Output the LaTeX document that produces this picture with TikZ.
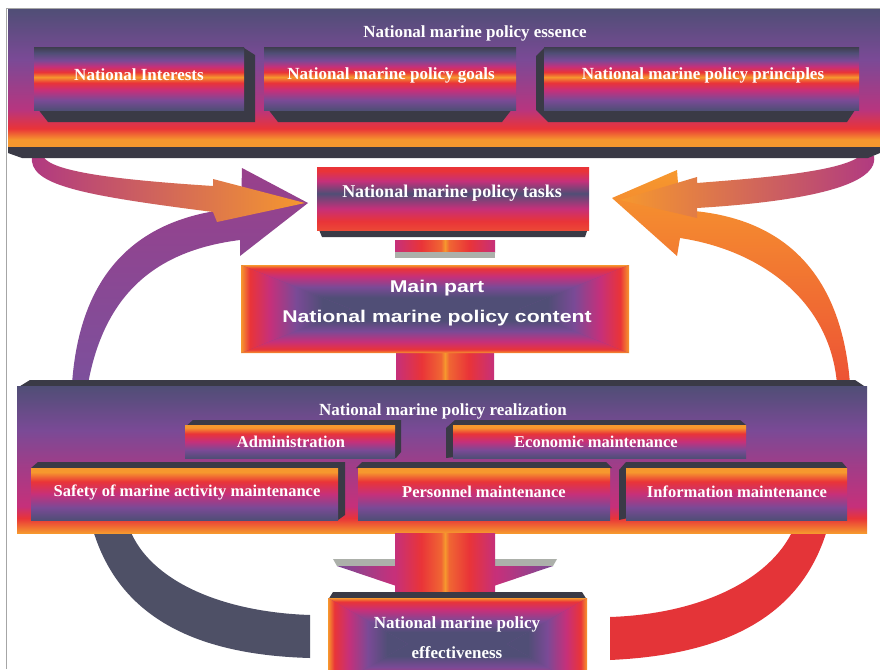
\documentclass[tikz,border=0pt]{standalone}
\usepackage{fontspec}
\setmainfont{Liberation Serif}
\newfontfamily\headsans[FakeStretch=1.25]{Liberation Sans}
\usetikzlibrary{positioning,calc}

\definecolor{slate}{RGB}{80,78,118}
\definecolor{darkedge}{RGB}{58,58,70}
\definecolor{plum}{RGB}{122,74,150}
\definecolor{magen}{RGB}{198,48,122}
\definecolor{scarlet}{RGB}{233,52,56}
\definecolor{amber}{RGB}{246,152,46}
\definecolor{arcpurple}{RGB}{124,80,156}
\definecolor{arcslate}{RGB}{78,80,102}
\definecolor{arcred}{RGB}{228,52,56}
\definecolor{bargray}{RGB}{172,176,170}

% colour bands (bottom to top / left to right)
\pgfdeclareverticalshading{essband}{100bp}{color(0bp)=(amber); color(25bp)=(amber); color(28bp)=(amber); color(32bp)=(scarlet); color(39bp)=(magen!80!plum); color(57bp)=(plum); color(75bp)=(slate); color(100bp)=(slate)}
\pgfdeclareverticalshading{stripe}{100bp}{color(0bp)=(darkedge); color(25bp)=(slate); color(33bp)=(plum); color(41bp)=(magen); color(47bp)=(scarlet); color(51.5bp)=(amber); color(55.5bp)=(scarlet); color(60bp)=(magen); color(65bp)=(plum); color(71bp)=(slate); color(75bp)=(darkedge!70!slate); color(100bp)=(darkedge)}
\pgfdeclareverticalshading{rowstripe}{100bp}{color(0bp)=(slate); color(25bp)=(slate); color(37bp)=(plum); color(50bp)=(magen); color(62bp)=(scarlet); color(71bp)=(amber); color(75bp)=(amber); color(100bp)=(amber)}
\pgfdeclareverticalshading{realband}{100bp}{color(0bp)=(amber); color(25bp)=(amber); color(27bp)=(amber!60!scarlet); color(30bp)=(scarlet); color(34bp)=(magen); color(48bp)=(magen!50!plum); color(60bp)=(plum); color(75bp)=(slate); color(100bp)=(slate)}
\pgfdeclareverticalshading{taskband}{100bp}{color(0bp)=(scarlet); color(25bp)=(scarlet!80!amber); color(32bp)=(scarlet); color(42bp)=(magen); color(54bp)=(slate); color(64bp)=(magen); color(72bp)=(scarlet); color(75bp)=(scarlet); color(100bp)=(scarlet)}
\pgfdeclarehorizontalshading{shaft}{100bp}{color(0bp)=(magen); color(25bp)=(magen); color(38bp)=(scarlet); color(48bp)=(scarlet!50!amber); color(50bp)=(amber); color(52bp)=(scarlet!50!amber); color(62bp)=(scarlet); color(75bp)=(magen); color(100bp)=(magen)}
\pgfdeclarehorizontalshading{fan}{100bp}{color(0bp)=(plum); color(25bp)=(plum); color(38bp)=(magen); color(50bp)=(scarlet); color(62bp)=(magen); color(75bp)=(plum); color(100bp)=(plum)}
% glow: edge at the low end / at the high end
\pgfdeclarehorizontalshading{glowlow}{100bp}{color(0bp)=(amber); color(25bp)=(amber); color(29bp)=(scarlet); color(38bp)=(magen); color(50bp)=(plum); color(62bp)=(slate); color(75bp)=(slate); color(100bp)=(slate)}
\pgfdeclarehorizontalshading{glowhigh}{100bp}{color(0bp)=(slate); color(25bp)=(slate); color(38bp)=(slate); color(50bp)=(plum); color(62bp)=(magen); color(71bp)=(scarlet); color(75bp)=(amber); color(100bp)=(amber)}
\pgfdeclareverticalshading{glowlowv}{100bp}{color(0bp)=(amber); color(25bp)=(amber); color(29bp)=(scarlet); color(38bp)=(magen); color(50bp)=(plum); color(62bp)=(slate); color(75bp)=(slate); color(100bp)=(slate)}
\pgfdeclareverticalshading{glowhighv}{100bp}{color(0bp)=(slate); color(25bp)=(slate); color(38bp)=(slate); color(50bp)=(plum); color(62bp)=(magen); color(71bp)=(scarlet); color(75bp)=(amber); color(100bp)=(amber)}

% box glow from the rim to the middle: x0, y0, x1, y1, depth of the side pieces
\newcommand{\glowbox}[5]{%
  \pgfmathsetmacro\gcy{(#2+#4)/2}%
  \pgfmathsetmacro\gl{#1+#5}%
  \pgfmathsetmacro\gr{#3-#5}%
  \path[shade, shading=glowhighv] (#1,#2) -- (#3,#2) -- (\gr,\gcy) -- (\gl,\gcy) -- cycle;
  \path[shade, shading=glowlowv] (#1,#4) -- (#3,#4) -- (\gr,\gcy) -- (\gl,\gcy) -- cycle;
  \path[shade, shading=glowlow] (#1,#2) -- (\gl,\gcy) -- (#1,#4) -- cycle;
  \path[shade, shading=glowhigh] (#3,#2) -- (\gr,\gcy) -- (#3,#4) -- cycle;
}

\begin{document}
\begin{tikzpicture}[x=1pt, y=-1pt,
  box/.style={shade, anchor=north west, inner sep=0pt, outer sep=0pt},
  glowbase/.style={fill=plum, anchor=north west, inner sep=0pt, outer sep=0pt},
  rim/.style={fill=darkedge},
  lbl/.style={text=white, inner sep=0pt, font=\bfseries\fontsize{17}{20}\selectfont},
  rowlbl/.style={lbl, font=\bfseries\fontsize{16.5}{19}\selectfont},
  mainlbl/.style={text=white, inner sep=0pt, font=\headsans\bfseries\fontsize{17}{20}\selectfont}]
\clip (0,0) rectangle (880,669);
\fill[white] (0,0) rectangle (880,669);

% Big arcs back up to the tasks
\path[shade, top color=plum!60!magen, bottom color=arcpurple] (72,384) .. controls (80,270) and (140,215) .. (241,208) -- (242,168) -- (308,203) -- (240,256) -- (240,240) .. controls (160,250) and (105,290) .. (88,384) -- cycle;
\path[shade, top color=amber, bottom color=scarlet!70!amber] (850,384) .. controls (842,280) and (790,215) .. (680,210) -- (677,170) -- (612,198) -- (677,256) -- (680,238) .. controls (760,250) and (830,300) .. (837,384) -- cycle;

% Arrows from the essence
\path[shade, left color=magen!70!plum, middle color=scarlet, right color=amber] (32,156) .. controls (28,185) and (80,195) .. (213,212) -- (217,222) -- (305,203) -- (213,179) -- (213,186) .. controls (120,180) and (50,172) .. (43,156) -- cycle;
\path[shade, left color=amber, middle color=scarlet, right color=magen!70!plum] (874,156) .. controls (880,190) and (780,203) .. (697,208) -- (697,218) -- (620,200) -- (697,177) -- (697,183) .. controls (760,178) and (840,172) .. (860,156) -- cycle;

% Arcs down to the effectiveness
\fill[arcslate] (93,530) .. controls (120,620) and (200,655) .. (310,658) -- (310,615) .. controls (220,612) and (150,580) .. (130,530) -- cycle;
\fill[arcred] (827,530) .. controls (800,620) and (720,655) .. (610,660) -- (610,617) .. controls (700,614) and (770,580) .. (793,530) -- cycle;

% Essence
\node[box, shading=essband, minimum width=872pt, minimum height=139pt] (ess) at (8,9) {};
\fill[rim] (8,147) -- (880,147) -- (880,153) -- (868,158) -- (22,158) -- (8,153) -- cycle;
\fill[rim] (34,104) -- (48,122) -- (255,122) -- (255,55) -- (244,48) -- cycle;
\fill[rim] (264,104) -- (278,122) -- (502,122) -- (516,104) -- cycle;
\fill[rim] (544,48) -- (536,56) -- (536,110) -- (548,122) -- (847,122) -- (859,104) -- cycle;
\node[box, shading=stripe, minimum width=210pt, minimum height=62pt] (intr) at (34,48) {};
\node[box, shading=stripe, minimum width=252pt, minimum height=62pt] (goals) at (264,48) {};
\node[box, shading=stripe, minimum width=315pt, minimum height=62pt] (princ) at (544,48) {};

% Tasks and content
\node[box, shading=shaft, minimum width=98pt, minimum height=31pt] (link2) at (396,353) {};
\fill[rim] (317,225) -- (589,225) -- (585,237) -- (322,237) -- cycle;
\node[box, shading=taskband, minimum width=272pt, minimum height=63pt] (tasks) at (317,167) {};
\node[box, shading=shaft, minimum width=100pt, minimum height=12pt] (link1) at (395,240) {};
\fill[bargray] (link1.south west) rectangle ++(100,6);
\node[glowbase, minimum width=388pt, minimum height=88pt] (main) at (241,265) {};
\glowbox{241}{265}{629}{353}{110}

% Realization
\fill[rim] (17,388) -- (30,380) -- (855,380) -- (867,388) -- cycle;
\node[box, shading=realband, minimum width=850pt, minimum height=147pt] (real) at (17,386) {};
\fill[rim] (185,427) -- (193,420) -- (401,420) -- (401,452) -- (396,458) -- cycle;
\fill[rim] (446,458) -- (446,428) -- (455,420) -- (740,420) -- (746,425) -- cycle;
\fill[rim] (31,468) -- (38,462) -- (345,462) -- (345,515) -- (338,520) -- cycle;
\fill[rim] (356,468) -- (362,462) -- (606,462) -- (612,468) -- cycle;
\fill[rim] (619,520) -- (619,470) -- (626,462) -- (842,462) -- (847,468) -- cycle;
\node[box, shading=rowstripe, minimum width=210pt, minimum height=33pt] (admin) at (185,425) {};
\node[box, shading=rowstripe, minimum width=293pt, minimum height=33pt] (econ) at (453,425) {};
\node[box, shading=rowstripe, minimum width=307pt, minimum height=52pt] (safety) at (31,468) {};
\node[box, shading=rowstripe, minimum width=252pt, minimum height=52pt] (pers) at (358,468) {};
\node[box, shading=rowstripe, minimum width=221pt, minimum height=52pt] (info) at (626,468) {};

% Down arrow and effectiveness
\fill[bargray] (333,559) -- (557,559) -- (553,566) -- (337,566) -- cycle;
\path[shade, shading=fan] (337,566) -- (553,566) -- (473,593) -- (417,593) -- cycle;
\node[box, shading=shaft, minimum width=100pt, minimum height=60pt] (link3) at (395,533) {};
\fill[rim] (328,600) -- (333,592) -- (582,592) -- (587,600) -- cycle;
\node[glowbase, minimum width=259pt, minimum height=92pt] (eff) at (328,598) {};
\glowbox{328}{598}{587}{690}{80}

% Texts
\node[lbl] (esstxt) at (475,33) {National marine policy essence};
\node[lbl] (intrtxt) at (139,75) {National Interests};
\node[lbl] (goalstxt) at (391,75) {National marine policy goals};
\node[lbl] (princtxt) at (703,75) {National marine policy principles};
\node[lbl, font=\bfseries\fontsize{18}{21}\selectfont] (taskstxt) at (452,193) {National marine policy tasks};
\node[mainlbl] (maintxt1) at (437,288) {Main part};
\node[mainlbl] (maintxt2) at (437,318) {National marine policy content};
\node[lbl] (realtxt) at (443,411) {National marine policy realization};
\node[rowlbl] (admintxt) at (291,442) {Administration};
\node[rowlbl] (econtxt) at (596,442) {Economic maintenance};
\node[rowlbl] (safetytxt) at (187,492) {Safety of marine activity maintenance};
\node[rowlbl] (perstxt) at (484,492) {Personnel maintenance};
\node[rowlbl] (infotxt) at (737,492) {Information maintenance};
\node[lbl] (efftxt1) at (457,624) {National marine policy};
\node[lbl] (efftxt2) at (457,653) {effectiveness};

% Frame
\draw[gray!70, line width=0.6pt] (6,669) -- (6,8) -- (880,8);
\end{tikzpicture}
\end{document}
